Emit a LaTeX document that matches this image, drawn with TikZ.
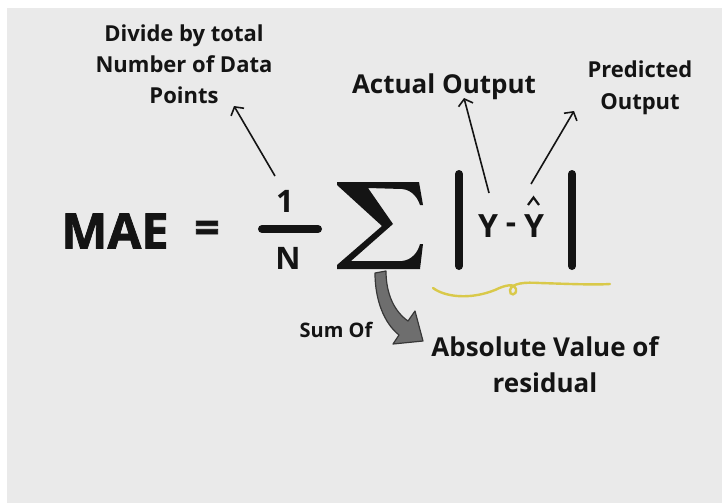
\documentclass[tikz,border=0pt]{standalone}
\usepackage{fontspec}
\setmainfont{Open Sans}
\newfontfamily\heavyfont{Open Sans}[BoldFeatures={FakeBold=1.6}]
\usetikzlibrary{arrows.meta}
\definecolor{bggray}{HTML}{EAEAEA}
\definecolor{squig}{HTML}{D9C94A}
\definecolor{arrgray}{HTML}{6E6E6E}
\definecolor{ink}{HTML}{141414}
\begin{document}
\begin{tikzpicture}[x=1pt,y=-1pt,
  lbl/.style={inner sep=0pt,text=ink,font=\bfseries},
  thinarr/.style={draw=ink,line width=1.6pt,-{Straight Barb[length=6pt,width=15pt,line width=1.6pt]}},
  vbar/.style={draw=ink,line width=8pt,line cap=round}]
\useasboundingbox (0,0) rectangle (722,503);
\fill[white] (0,0) rectangle (722,503);
\fill[bggray] (7,8) rectangle (722,503);
% texts
\node[lbl,align=center,font=\fontsize{22}{31}\selectfont\bfseries] (divide) at (184,64) {Divide by total\\Number of Data\\Points};
\node[lbl,font=\fontsize{26}{30}\selectfont\bfseries] (actual) at (444,87) {Actual Output};
\node[lbl,align=center,font=\fontsize{22}{32}\selectfont\bfseries] (pred) at (640,88) {Predicted\\Output};
\node[lbl,font=\heavyfont\fontsize{49}{50}\selectfont\bfseries] (mae) at (115,231) {MAE};
\node[lbl,font=\heavyfont\fontsize{44}{50}\selectfont\bfseries] (eq) at (207,232) {=};
\node[lbl,font=\fontsize{31}{34}\selectfont\bfseries] (one) at (285,201) {1};
\node[lbl,font=\fontsize{31}{34}\selectfont\bfseries] (nn) at (288,258) {N};
\node[lbl,font=\fontsize{32}{34}\selectfont\bfseries] (yact) at (488,226.5) {Y};
\node[lbl,font=\fontsize{32}{34}\selectfont\bfseries] (minus) at (511,228) {-};
\node[lbl,font=\fontsize{32}{34}\selectfont\bfseries] (ypred) at (534,226.5) {Y};
\node[lbl,font=\fontsize{20}{24}\selectfont\bfseries] (sumof) at (336,330) {Sum Of};
\node[lbl,align=center,font=\fontsize{26}{36}\selectfont\bfseries] (absval) at (545,365) {Absolute Value of\\residual};
% summation sign
\fill[ink,line join=miter]
  (337,182) -- (419,182) -- (423,205) -- (420,205)
  .. controls (418,199) and (413,190) .. (402,189)
  -- (368,188) -- (393,224) -- (351,261) -- (402,261)
  .. controls (412,260) and (418,252) .. (420,244)
  -- (423,244) -- (420,269) -- (337,269) -- (337,265)
  -- (382,226) -- (337,185) -- cycle;
% fraction bar and absolute bars
\draw[vbar] (262,229) -- (318,229);
\draw[vbar] (459,174) -- (459,266);
\draw[vbar] (572,174) -- (572,266);
% hat
\draw[ink,line width=2.2pt,line join=miter] (528,205) -- (533.5,197.5) -- (539,205);
% thin arrows
\coordinate (a1s) at (275,176);
\coordinate (a1e) at (234,106);
\coordinate (a2s) at (489,193);
\coordinate (a2e) at (464,98);
\coordinate (a3s) at (531,184);
\coordinate (a3e) at (574,111);
\draw[thinarr] (a1s) -- (a1e);
\draw[thinarr] (a2s) -- (a2e);
\draw[thinarr] (a3s) -- (a3e);
% yellow squiggle
\draw[squig,line width=2.4pt,line cap=round]
  (433,288) .. controls (445,297) and (470,300) .. (495,290)
  .. controls (505,285) and (515,283) .. (516,289)
  .. controls (517,296) and (509,296) .. (510,290)
  .. controls (512,283) and (525,282) .. (540,283)
  .. controls (570,284) and (595,285) .. (610,284);
% gray curved arrow
\filldraw[fill=arrgray,draw=ink!85,line width=1.2pt,line join=round]
  (375,273) -- (386,271)
  .. controls (386,295) and (395,312) .. (408,321)
  -- (415,311) -- (423,341) -- (393,344) -- (399,335)
  .. controls (384,323) and (375,300) .. (375,273) -- cycle;
\end{tikzpicture}
\end{document}
